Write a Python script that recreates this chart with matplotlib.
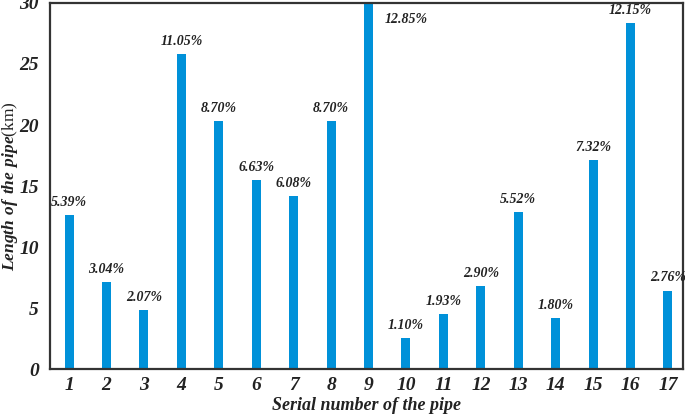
import matplotlib
matplotlib.use("Agg")
import matplotlib.pyplot as plt

plt.rcParams["font.family"] = ["Liberation Serif", "DejaVu Serif"]
plt.rcParams["mathtext.fontset"] = "custom"
plt.rcParams["mathtext.rm"] = "Liberation Serif"
plt.rcParams["mathtext.bfit"] = "Liberation Serif:italic:bold"

pipe_ids = list(range(1, 18))
lengths = [12.6, 7.1, 4.85, 25.8, 20.3, 15.5, 14.2, 20.3, 30.0,
           2.57, 4.5, 6.77, 12.9, 4.2, 17.1, 28.35, 6.44]
shares = ["5.39%", "3.04%", "2.07%", "11.05%", "8.70%", "6.63%", "6.08%", "8.70%",
          "12.85%", "1.10%", "1.93%", "2.90%", "5.52%", "1.80%", "7.32%", "12.15%", "2.76%"]

fig = plt.figure(figsize=(6.85, 4.19), dpi=100)
ax = fig.add_axes([0.073, 0.119, 0.924, 0.874])

ax.bar(pipe_ids, lengths, width=0.24, color="#0091d9")

for x, h, s in zip(pipe_ids, lengths, shares):
    if h >= 29.5:
        # tallest bar hits the frame, label goes beside it
        ax.text(x + 1.0, 29.2, s, ha="center", va="top", fontsize=10,
                fontweight="bold", fontstyle="italic", color="#222222")
    else:
        ax.text(x, h + 0.5, s, ha="center", va="bottom", fontsize=10,
                fontweight="bold", fontstyle="italic", color="#222222")

ax.set_xlim(0.49, 17.4)
ax.set_ylim(0, 30)
ax.set_xticks(pipe_ids)
ax.set_yticks([0, 5, 10, 15, 20, 25, 30])
ax.tick_params(axis="y", length=0, labelsize=14, pad=8)
ax.tick_params(axis="x", length=0, labelsize=14, pad=6)
for lab in ax.get_xticklabels() + ax.get_yticklabels():
    lab.set_fontweight("bold")
    lab.set_fontstyle("italic")
    lab.set_color("#222222")

for sp in ax.spines.values():
    sp.set_linewidth(1.6)
    sp.set_color("#333333")

ax.set_xlabel("Serial number of the pipe", fontsize=13, fontweight="bold",
              fontstyle="italic", color="#222222", labelpad=2)
ax.set_ylabel(r"$\mathbfit{Length\ of\ the\ pipe}\mathrm{(km)}$", fontsize=12.5,
              color="#222222")
ax.yaxis.set_label_coords(-0.047, 0.5)

fig.savefig("out.png", dpi=100)
